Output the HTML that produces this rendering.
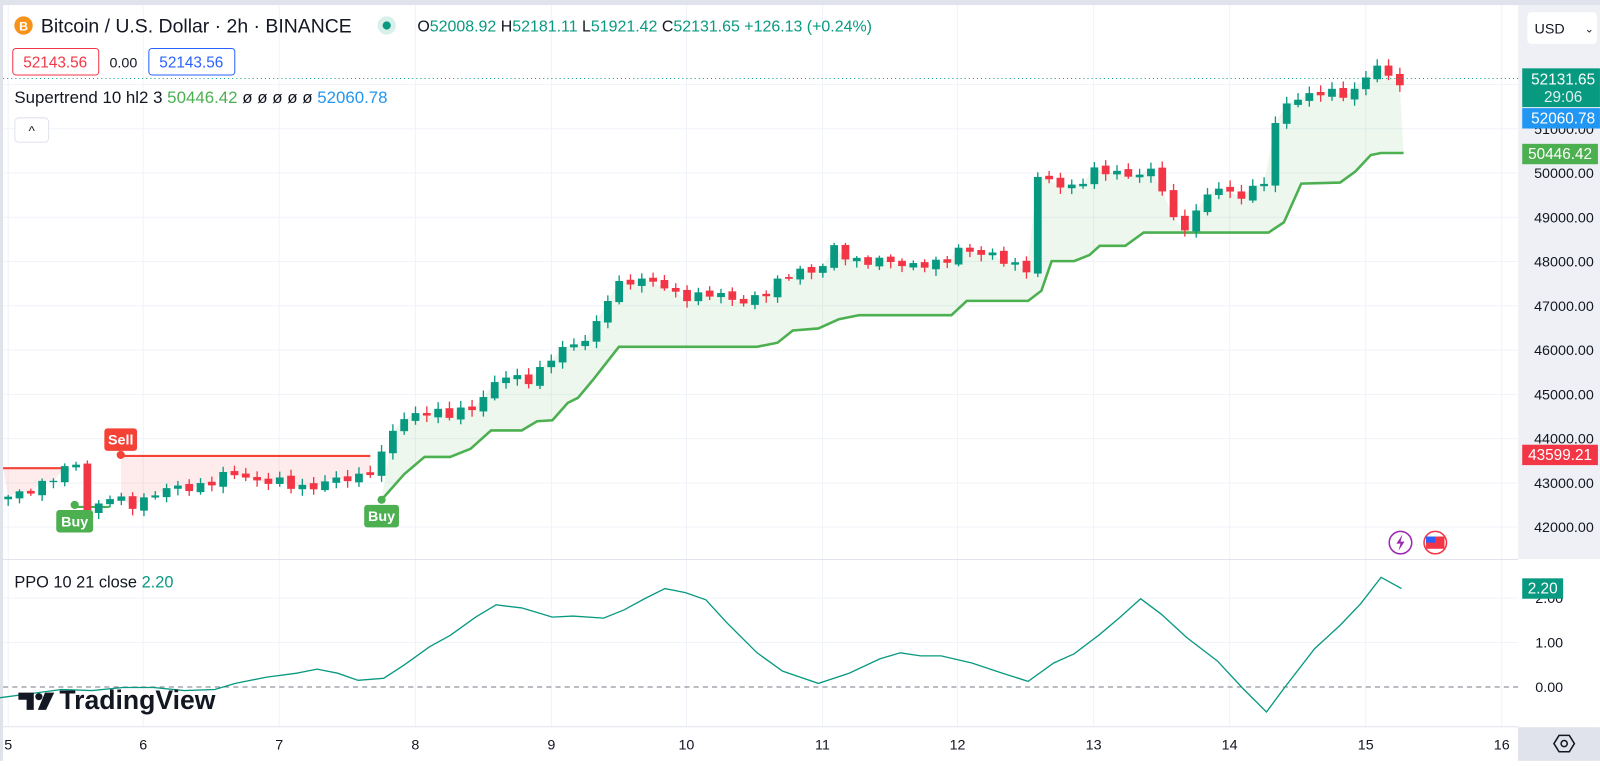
<!DOCTYPE html>
<html><head><meta charset="utf-8"><style>
html,body{margin:0;padding:0;background:#fff;overflow:hidden}
#wrap{position:absolute;left:0;top:0;width:1564px;height:746px;transform:scale(1.023,1.02);transform-origin:0 0;font-family:"Liberation Sans",sans-serif}
svg text{font-family:"Liberation Sans",sans-serif}
</style></head><body><div id="wrap">
<svg id="s" width="1564" height="746" xmlns="http://www.w3.org/2000/svg"></svg>
</div>
<script>
(function(){
const S=document.getElementById('s');let h='';
const G='#089981',R='#f23645';
const py=p=>213+(49000-p)*0.0434;
const qy=v=>673.5-v*43.6;
const dx=[8,140,273,406,539,671,804,936,1069,1202,1335,1468];
h+=`<rect x="0" y="0" width="1564" height="746" fill="#fff"/>`;
h+=`<rect x="0" y="0" width="1564" height="5" fill="#e0e3eb"/>`;
h+=`<rect x="0" y="0" width="3" height="746" fill="#e0e3eb"/>`;
h+=`<rect x="1484" y="5" width="80" height="543" fill="#eef0f5"/>`;
h+=`<rect x="1484" y="713" width="80" height="33" fill="#e0e3eb"/>`;
dx.forEach(x=>{h+=`<line x1="${x}" y1="5" x2="${x}" y2="713" stroke="#f0f3fa"/>`});
for(let p=42000;p<=52000;p+=1000){const y=py(p);h+=`<line x1="3" y1="${y}" x2="1484" y2="${y}" stroke="#f0f3fa"/>`;
 h+=`<text x="1558" y="${y+5}" font-size="14" fill="#131722" text-anchor="end">${p}.00</text>`}
[1,2].forEach(v=>{h+=`<line x1="3" y1="${qy(v)}" x2="1484" y2="${qy(v)}" stroke="#f0f3fa"/>`;h+=`<text x="1528" y="${qy(v)+5}" font-size="14" fill="#131722" text-anchor="end">${v}.00</text>`});
h+=`<text x="1528" y="${qy(0)+5}" font-size="14" fill="#131722" text-anchor="end">0.00</text>`;
h+=`<line x1="3" y1="548.5" x2="1484" y2="548.5" stroke="#e0e3eb"/>`;
h+=`<line x1="3" y1="712.5" x2="1484" y2="712.5" stroke="#e0e3eb"/>`;
h+=`<line x1="3" y1="${qy(0)}" x2="1484" y2="${qy(0)}" stroke="#787b86" stroke-dasharray="5,4"/>`;
const cp=[[7,42618],[40,42990],[62,43200],[73,43600],[84,42390],[110,42690],[125,42450],[150,42780],[185,42900],[230,43190],[290,42900],[340,43080],[360,43260],[375,43650],[385,44230],[408,44650],[440,44500],[470,44870],[490,45380],[520,45380],[550,46000],[580,46420],[595,47180],[610,47570],[630,47640],[660,47230],[690,47270],[720,47110],[750,47270],[780,47870],[800,47730],[815,48260],[840,48030],[870,47960],[900,47960],[920,47870],[940,48380],[960,48150],[990,47960],[1005,47870],[1015,49940],[1040,49650],[1070,50000],[1100,50000],[1125,50000],[1140,49480],[1150,48720],[1165,48950],[1185,49650],[1210,49530],[1230,49650],[1240,49880],[1250,51600],[1270,51720],[1300,51790],[1325,51880],[1340,52300],[1350,52410],[1360,52060],[1372,52131]];
function interp(arr,x){if(x<=arr[0][0])return arr[0][1];for(let i=1;i<arr.length;i++){if(x<=arr[i][0]){const a=arr[i-1],b=arr[i];return a[1]+(b[1]-a[1])*(x-a[0])/(b[0]-a[0])}}return arr[arr.length-1][1]}
const N=124,xs=[],cl=[];
for(let i=0;i<N;i++){const x=8+i*11.06;xs.push(x);cl.push(interp(cp,x)+Math.sin(i*2.7)*90+Math.cos(i*1.3)*60)}
const st=[[373,490],[395,465],[415,448],[440,448],[460,440],[480,422],[510,422],[525,413],[540,412],[555,395],[565,390],[580,372],[605,340],[740,340],[760,336],[775,324],[800,322],[820,313],[840,309],[930,309],[945,295],[1005,295],[1018,285],[1028,256],[1050,256],[1065,250],[1075,241],[1100,241],[1118,228],[1240,228],[1255,218],[1272,180],[1310,179],[1325,168],[1340,152],[1350,150],[1372,150]];
let topPts=[];
xs.forEach((x,i)=>{if(x>=373){topPts.push(`${x},${Math.min(py(cl[i]),interp(st,x))}`)}});
let stp=st.map(p=>p.join(',')).join(' ');
h+=`<polygon points="${topPts.join(' ')} ${st.slice().reverse().map(p=>p.join(',')).join(' ')}" fill="rgba(76,175,80,0.1)"/>`;
function redFill(x0,x1,y){let pts=[];xs.forEach((x,i)=>{if(x>=x0&&x<=x1)pts.push(`${x},${Math.max(py(cl[i]),y)}`)});h+=`<polygon points="${x0},${y} ${x1},${y} ${pts.reverse().join(' ')}" fill="rgba(242,54,69,0.1)"/>`}
redFill(3,70,459);redFill(118,362,447);
h+=`<polyline points="${stp}" fill="none" stroke="#4caf50" stroke-width="2.5"/>`;
h+=`<line x1="3" y1="459" x2="65" y2="459" stroke="#f44336" stroke-width="2"/>`;
h+=`<line x1="118" y1="447" x2="362" y2="447" stroke="#f44336" stroke-width="2"/>`;
h+=`<line x1="73" y1="497" x2="107" y2="497" stroke="#4caf50" stroke-width="2"/>`;
let prev=cl[0]-60;
for(let i=0;i<N;i++){const c=cl[i],x=xs[i];const o=prev+(c>prev?-40:40)*Math.abs(Math.sin(i*1.7));const up=c>=o,col=up?G:R;
 const hi=Math.max(o,c)+40+Math.abs(Math.sin(i*3.1))*110,lo=Math.min(o,c)-40-Math.abs(Math.cos(i*2.3))*110;
 h+=`<line x1="${x}" y1="${py(hi)}" x2="${x}" y2="${py(lo)}" stroke="${col}" stroke-width="1.3"/>`;
 const y1=py(Math.max(o,c)),y2=py(Math.min(o,c));
 h+=`<rect x="${x-3.8}" y="${y1}" width="7.6" height="${Math.max(1.3,y2-y1)}" fill="${col}"/>`;prev=c}
h+=`<circle cx="73" cy="495" r="4" fill="#4caf50"/><rect x="55" y="500" width="36" height="22" rx="3" fill="#4caf50"/><text x="73" y="516" font-size="14" fill="#fff" text-anchor="middle" font-weight="bold">Buy</text>`;
h+=`<circle cx="373" cy="490" r="4" fill="#4caf50"/><rect x="356" y="495" width="34" height="22" rx="3" fill="#4caf50"/><text x="373" y="511" font-size="14" fill="#fff" text-anchor="middle" font-weight="bold">Buy</text>`;
h+=`<circle cx="118" cy="446" r="4" fill="#f44336"/><rect x="102" y="420" width="32" height="22" rx="3" fill="#f44336"/><text x="118" y="436" font-size="14" fill="#fff" text-anchor="middle" font-weight="bold">Sell</text>`;
const pp=[[0,684],[30,680],[60,676],[90,677],[120,674],[150,674],[180,677],[210,676],[230,670],[260,664],[290,660],[310,656],[330,660],[350,667],[375,665],[395,652],[420,634],[440,623],[465,605],[485,593],[510,596],[540,605],[560,604],[590,606],[610,598],[630,587],[650,577],[670,581],[690,588],[710,610],[740,640],[765,658],[800,670],[830,660],[860,646],[880,640],[900,643],[920,643],[950,650],[980,660],[1005,668],[1030,650],[1050,641],[1075,622],[1095,605],[1115,587],[1135,602],[1160,625],[1190,648],[1215,675],[1238,698],[1255,675],[1285,636],[1310,613],[1330,592],[1350,566],[1370,577]];
h+=`<polyline points="${pp.map(p=>p.join(',')).join(' ')}" fill="none" stroke="#089981" stroke-width="1.3"/>`;
h+=`<path d="M18 679 h15 v17 h-7 v-10 h-8z" fill="#131722"/><circle cx="38" cy="683" r="3.5" fill="#131722"/><path d="M44 679 h9 l-8 17 h-8z" fill="#131722"/>`;
h+=`<text x="58" y="695" font-size="26" font-weight="bold" fill="#131722">TradingView</text>`;
dx.forEach((x,i)=>{h+=`<text x="${x}" y="735" font-size="14" fill="#131722" text-anchor="middle">${5+i}</text>`});
h+=`<polygon points="1519,729 1524,721 1534,721 1539,729 1534,737 1524,737" fill="none" stroke="#131722" stroke-width="1.5"/><circle cx="1529" cy="729" r="3" fill="none" stroke="#131722" stroke-width="1.5"/>`;
h+=`<line x1="3" y1="77" x2="1484" y2="77" stroke="#089981" stroke-dasharray="1,3"/>`;
h+=`<rect x="1488" y="67" width="76" height="38" fill="#089981"/><text x="1528" y="83" font-size="15" fill="#fff" text-anchor="middle">52131.65</text><text x="1528" y="100" font-size="15" fill="#e0f2ef" text-anchor="middle">29:06</text>`;
h+=`<rect x="1488" y="106" width="76" height="20" fill="#2196f3"/><text x="1528" y="121" font-size="15" fill="#fff" text-anchor="middle">52060.78</text>`;
h+=`<rect x="1488" y="141" width="74" height="20" fill="#4caf50"/><text x="1525" y="156" font-size="15" fill="#fff" text-anchor="middle">50446.42</text>`;
h+=`<rect x="1488" y="436" width="74" height="20" fill="#f23645"/><text x="1525" y="451" font-size="15" fill="#fff" text-anchor="middle">43599.21</text>`;
h+=`<rect x="1488" y="567" width="40" height="20" fill="#089981"/><text x="1508" y="582" font-size="15" fill="#fff" text-anchor="middle">2.20</text>`;
h+=`<rect x="1493" y="12" width="68" height="31" rx="4" fill="#fff"/><text x="1500" y="33" font-size="14" fill="#131722">USD</text><text x="1549" y="32" font-size="11" fill="#131722">⌄</text>`;
h+=`<circle cx="1369" cy="532" r="11" fill="#fff" stroke="#9c27b0" stroke-width="1.5"/><path d="M1371 524 l-6 9 h4 l-2 7 l6 -9 h-4z" fill="#9c27b0"/>`;
h+=`<circle cx="1403" cy="532" r="11" fill="#fff" stroke="#f23645" stroke-width="1.5"/><rect x="1394" y="526" width="18" height="12" fill="#f23645"/><rect x="1394" y="526" width="9" height="6" fill="#2962ff"/>`;
h+=`<circle cx="23" cy="25" r="9" fill="#f7931a"/><text x="23" y="30" font-size="12" fill="#fff" text-anchor="middle" font-weight="bold">B</text>`;
h+=`<text x="40" y="32" font-size="19" fill="#131722">Bitcoin / U.S. Dollar · 2h · BINANCE</text>`;
h+=`<circle cx="378" cy="25" r="9" fill="#d8f0ea"/><circle cx="378" cy="25" r="4" fill="#089981"/>`;
h+=`<text x="408" y="31" font-size="15.6" fill="#089981"><tspan fill="#131722">O</tspan>52008.92 <tspan fill="#131722">H</tspan>52181.11 <tspan fill="#131722">L</tspan>51921.42 <tspan fill="#131722">C</tspan>52131.65 +126.13 (+0.24%)</text>`;
h+=`<rect x="12.5" y="47.5" width="84" height="26" rx="3" fill="#fff" stroke="#f23645"/><text x="54" y="66" font-size="15" fill="#f23645" text-anchor="middle">52143.56</text>`;
h+=`<text x="107" y="66" font-size="14" fill="#131722">0.00</text>`;
h+=`<rect x="145.5" y="47.5" width="84" height="26" rx="3" fill="#fff" stroke="#2962ff"/><text x="187" y="66" font-size="15" fill="#2962ff" text-anchor="middle">52143.56</text>`;
h+=`<text x="14" y="101" font-size="16.5" fill="#131722">Supertrend 10 hl2 3 <tspan fill="#4caf50">50446.42</tspan> ø ø ø ø ø <tspan fill="#2196f3">52060.78</tspan></text>`;
h+=`<rect x="14.5" y="115.5" width="33" height="24" rx="4" fill="#fff" stroke="#e0e3eb"/><text x="31" y="133" font-size="13" fill="#131722" text-anchor="middle">^</text>`;
h+=`<text x="14" y="576" font-size="16" fill="#131722">PPO 10 21 close <tspan fill="#089981">2.20</tspan></text>`;
S.innerHTML=h;
})();
</script></body></html>
